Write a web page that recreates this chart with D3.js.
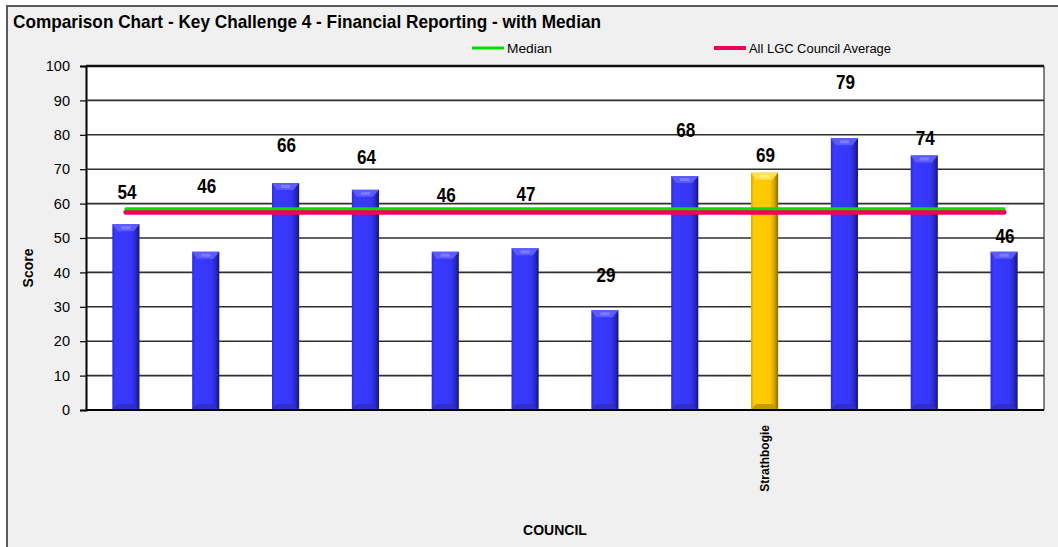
<!DOCTYPE html>
<html>
<head>
<meta charset="utf-8">
<script src="https://cdn.jsdelivr.net/npm/d3@7"></script>
<style>
  html, body { margin: 0; padding: 0; background: #ffffff; }
  svg { display: block; font-family: "Liberation Sans", Arial, sans-serif; }
</style>
</head>
<body>
<svg id="chart" width="1058" height="547"></svg>
<script>
// Council scores for Key Challenge 4 (only the highlighted council is named)
const councils = ["", "", "", "", "", "", "", "", "Strathbogie", "", "", ""];
const scores = [54, 46, 66, 64, 46, 47, 29, 68, 69, 79, 74, 46];
const highlighted = ["Strathbogie"];
const medianScore = [58.5];
const averageScore = [57.5];
const yTicks = [0, 10, 20, 30, 40, 50, 60, 70, 80, 90, 100];
const legendItems = ["Median", "All LGC Council Average"];

// How far (px) each value label floats above its bar
const labelLift = [32, 66, 38, 33, 57, 54, 35, 46, 18, 56, 17, 16];

const svg = d3.select("#chart");
const W = 1058, H = 547;
const plot = { left: 86, right: 1044, top: 66, bottom: 410 };

// Chart frame
svg.append("rect").attr("x", 0).attr("y", 0).attr("width", W).attr("height", H).attr("fill", "#ffffff");
svg.append("rect").attr("x", 7).attr("y", 6).attr("width", W).attr("height", H)
  .attr("fill", "#f0f0f0").attr("stroke", "#5a5a5a").attr("stroke-width", 2);

// Title
svg.append("text").attr("x", 13).attr("y", 28)
  .attr("font-size", 19).attr("font-weight", "bold").attr("fill", "#000")
  .attr("textLength", 588).attr("lengthAdjust", "spacingAndGlyphs")
  .text("Comparison Chart - Key Challenge 4 - Financial Reporting - with Median");

// Scales
const x = d3.scaleBand()
  .domain(d3.range(scores.length))
  .range([plot.left, plot.right])
  .paddingInner(0.66)
  .paddingOuter(0.33);
const y = d3.scaleLinear().domain([0, 100]).range([plot.bottom, plot.top]);

// Plot background
svg.append("rect").attr("x", plot.left).attr("y", plot.top)
  .attr("width", plot.right - plot.left).attr("height", plot.bottom - plot.top)
  .attr("fill", "#ffffff");
svg.append("line").attr("x1", plot.right).attr("x2", plot.right)
  .attr("y1", plot.top).attr("y2", plot.bottom)
  .attr("stroke", "#808080").attr("stroke-width", 2);

// Gridlines
svg.append("g").selectAll("line").data(yTicks.filter(t => t > 0)).join("line")
  .attr("x1", plot.left).attr("x2", plot.right)
  .attr("y1", d => y(d)).attr("y2", d => y(d))
  .attr("stroke", d => d === 100 ? "#111" : "#2e2e2e")
  .attr("stroke-width", d => d === 100 ? 2.5 : 1.6);

// Y axis
const yAxis = svg.append("g").attr("transform", `translate(${plot.left},0)`)
  .call(d3.axisLeft(y).tickValues(yTicks).tickSize(6).tickPadding(10));
yAxis.select(".domain").attr("stroke", "#000").attr("stroke-width", 2);
yAxis.selectAll(".tick line").attr("stroke", "#000").attr("stroke-width", 1.2);
yAxis.selectAll(".tick text").attr("font-size", 14.5).attr("fill", "#000")
  .attr("font-family", "Liberation Sans, Arial, sans-serif");

svg.append("text").attr("transform", "translate(33,268) rotate(-90)")
  .attr("text-anchor", "middle").attr("font-size", 14).attr("font-weight", "bold")
  .text("Score");

// Gradients for bevelled bars
const defs = svg.append("defs");
function barGradient(id, stops) {
  const g = defs.append("linearGradient").attr("id", id)
    .attr("x1", "0%").attr("x2", "100%").attr("y1", "0%").attr("y2", "0%");
  stops.forEach(([o, c]) => g.append("stop").attr("offset", o).attr("stop-color", c));
}
barGradient("blueBar", [["0%", "#2b2bd8"], ["12%", "#3a3aff"], ["70%", "#3636f6"], ["85%", "#2a2ad0"], ["100%", "#15157a"]]);
barGradient("goldBar", [["0%", "#d9a800"], ["12%", "#ffcc00"], ["70%", "#fcc800"], ["85%", "#d8a800"], ["100%", "#8a6a00"]]);

const bw = x.bandwidth();
const isHi = i => highlighted.includes(councils[i]);
const bars = svg.append("g").selectAll("g").data(scores).join("g");

bars.append("rect")
  .attr("x", (d, i) => x(i)).attr("y", d => y(d))
  .attr("width", bw).attr("height", d => y(0) - y(d))
  .attr("fill", (d, i) => isHi(i) ? "url(#goldBar)" : "url(#blueBar)");

// top bevel
bars.append("path")
  .attr("d", (d, i) => {
    const x0 = x(i), t = y(d);
    return `M${x0},${t}L${x0 + bw},${t}L${x0 + bw - 6},${t + 7}L${x0 + 5},${t + 7}Z`;
  })
  .attr("fill", (d, i) => isHi(i) ? "#ffe04a" : "#5b5bff");
bars.append("rect")
  .attr("x", (d, i) => x(i) + 9).attr("y", d => y(d) + 2)
  .attr("width", bw - 18).attr("height", 3)
  .attr("fill", (d, i) => isHi(i) ? "#fff07a" : "#7c7cff");

// bottom bevel
bars.append("path")
  .attr("d", (d, i) => {
    const x0 = x(i), b = y(0);
    return `M${x0},${b}L${x0 + bw},${b}L${x0 + bw - 6},${b - 6}L${x0 + 5},${b - 6}Z`;
  })
  .attr("fill", (d, i) => isHi(i) ? "#c89a00" : "#3030c8");

// Value labels
svg.append("g").selectAll("text").data(scores).join("text")
  .attr("x", (d, i) => x(i) + bw / 2 + 1)
  .attr("y", (d, i) => y(d) - labelLift[i] + 7)
  .attr("text-anchor", "middle").attr("font-size", 19.5).attr("font-weight", "bold")
  .attr("fill", "#000")
  .attr("textLength", 19).attr("lengthAdjust", "spacingAndGlyphs")
  .text(d => d);

// Median and average reference lines
const lineX1 = x(0) + bw / 2, lineX2 = x(scores.length - 1) + bw / 2;
svg.append("line").attr("x1", lineX1).attr("x2", lineX2)
  .attr("y1", y(averageScore[0])).attr("y2", y(averageScore[0]))
  .attr("stroke", "#f0005c").attr("stroke-width", 5).attr("stroke-linecap", "round");
svg.append("line").attr("x1", lineX1).attr("x2", lineX2)
  .attr("y1", y(medianScore[0])).attr("y2", y(medianScore[0]))
  .attr("stroke", "#00e000").attr("stroke-width", 3).attr("stroke-linecap", "round");

// Axis base line
svg.append("line").attr("x1", plot.left).attr("x2", plot.right)
  .attr("y1", plot.bottom).attr("y2", plot.bottom)
  .attr("stroke", "#000").attr("stroke-width", 2);

// Category labels (rotated)
svg.append("g").selectAll("text").data(councils).join("text")
  .attr("transform", (d, i) => `translate(${x(i) + bw / 2 + 4},425) rotate(-90)`)
  .attr("text-anchor", "end").attr("font-size", 12).attr("font-weight", "bold")
  .text(d => d);

svg.append("text").attr("x", 555).attr("y", 535)
  .attr("text-anchor", "middle").attr("font-size", 14).attr("font-weight", "bold")
  .text("COUNCIL");

// Legend
const legend = svg.append("g");
const legendPos = [472, 714];
const legendColor = ["#00e000", "#f0005c"];
const legendWidth = [3, 4];
const legendTextLen = [45, 142];
legendItems.forEach((name, i) => {
  legend.append("line").attr("x1", legendPos[i]).attr("x2", legendPos[i] + 32)
    .attr("y1", 48).attr("y2", 48)
    .attr("stroke", legendColor[i]).attr("stroke-width", legendWidth[i]);
  legend.append("text").attr("x", legendPos[i] + 35).attr("y", 53)
    .attr("font-size", 12.5).attr("fill", "#000")
    .attr("textLength", legendTextLen[i]).attr("lengthAdjust", "spacingAndGlyphs")
    .text(name);
});
</script>
</body>
</html>
